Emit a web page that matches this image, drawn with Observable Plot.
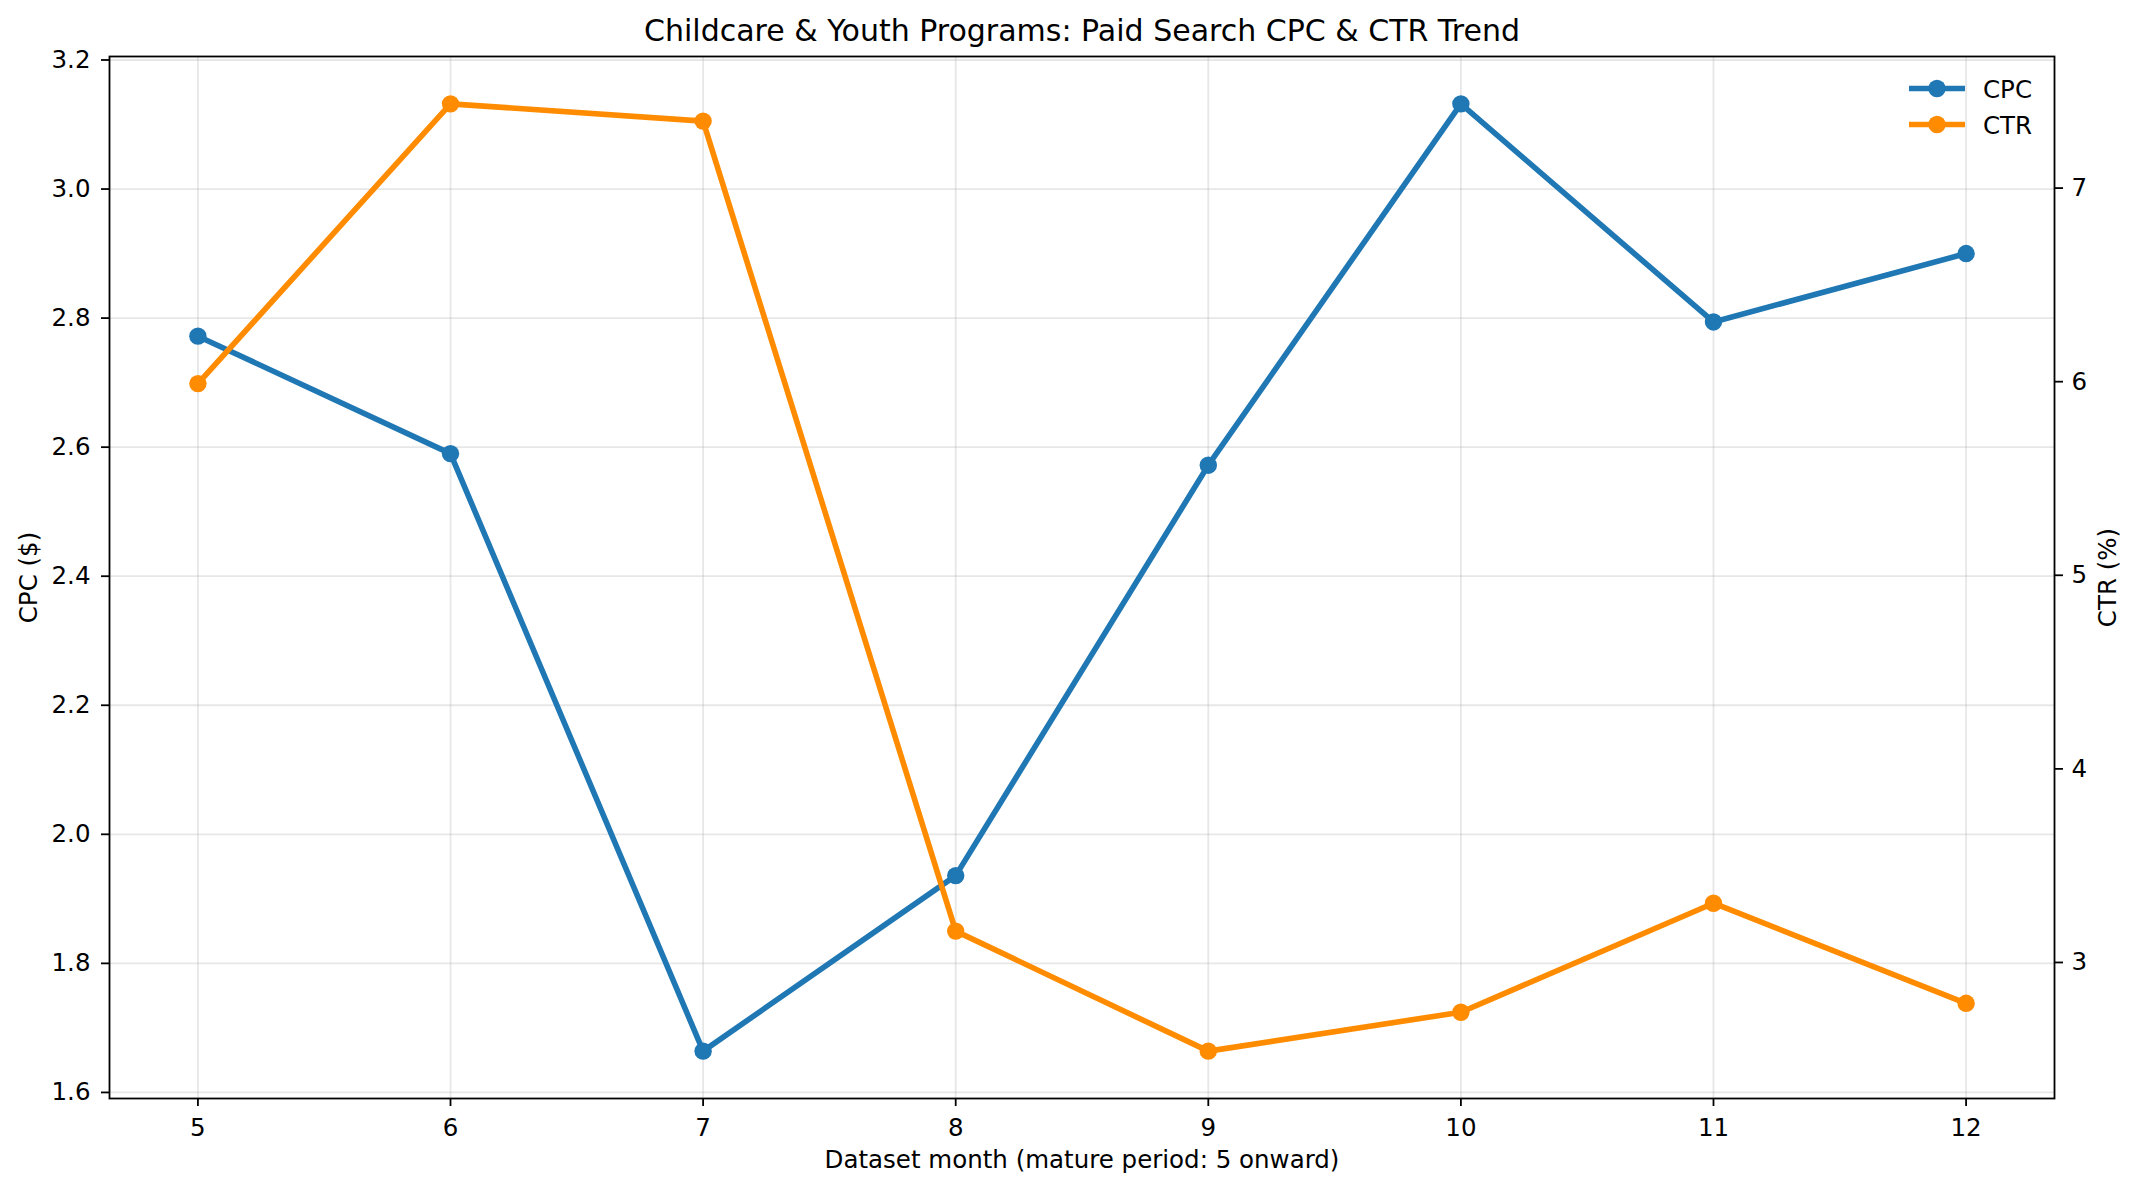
<!DOCTYPE html>
<html>
<head>
<meta charset="utf-8">
<script src="https://cdn.jsdelivr.net/npm/d3@7"></script>
<script src="https://cdn.jsdelivr.net/npm/@observablehq/plot@0.6"></script>
<style>
  html, body { margin: 0; padding: 0; background: white; }
  #chart { position: relative; width: 2139px; height: 1192px; }
</style>
</head>
<body>
<div id="chart"></div>
<script>
// ---- data ----
const months = [5, 6, 7, 8, 9, 10, 11, 12];
const cpc = [2.772, 2.590, 1.664, 1.936, 2.572, 3.132, 2.794, 2.900];
const ctr = [5.99, 7.435, 7.346, 3.162, 2.542, 2.743, 3.306, 2.789];
const cpcTicks = [1.6, 1.8, 2.0, 2.2, 2.4, 2.6, 2.8, 3.0, 3.2];
const ctrTicks = [3, 4, 5, 6, 7];
const seriesNames = ["CPC", "CTR"];
const seriesColors = ["#1f77b4", "#ff8c00"];
const titleText = "Childcare & Youth Programs: Paid Search CPC & CTR Trend";
const xLabel = "Dataset month (mature period: 5 onward)";
const yLabelLeft = "CPC ($)";
const yLabelRight = "CTR (%)";

// ---- table built from arrays ----
const rows = months.map((m, i) => ({month: m, cpc: cpc[i], ctr: ctr[i]}));

// matplotlib-style 5% margins
function padded(vals) {
  const lo = d3.min(vals), hi = d3.max(vals), r = hi - lo;
  return [lo - 0.05 * r, hi + 0.05 * r];
}
const cpcDomain = padded(cpc);
const ctrDomain = padded(ctr);
const xDomain = [d3.min(months) - 0.35, d3.max(months) + 0.35];
// secondary axis: map CTR values into the primary y scale
const ctrToY = d3.scaleLinear().domain(ctrDomain).range(cpcDomain);

const gridStyle = {stroke: "#b0b0b0", strokeOpacity: 0.3, strokeWidth: 1.8};
const FS = 24.5;
const FONT = "'DejaVu Sans', sans-serif";

const chart = Plot.plot({
  width: 2139,
  height: 1192,
  marginLeft: 109,
  marginRight: 85,
  marginTop: 56,
  marginBottom: 94,
  style: {fontFamily: FONT, fontSize: FS + "px", background: "white", color: "black", overflow: "visible"},
  x: {domain: xDomain},
  y: {domain: cpcDomain},
  marks: [
    Plot.gridX(months, gridStyle),
    Plot.gridY(cpcTicks, gridStyle),
    Plot.axisX(months, {tickSize: 8, tickPadding: 12, tickFormat: d3.format("d"), label: null, strokeWidth: 1.8, fontSize: FS}),
    Plot.axisY(cpcTicks, {anchor: "left", tickSize: 8, tickPadding: 11, tickFormat: d3.format(".1f"), label: null, strokeWidth: 1.8, fontSize: FS}),
    Plot.axisY(ctrTicks.map(t => ctrToY(t)), {anchor: "right", tickSize: 8, tickPadding: 9,
      tickFormat: d => String(Math.round(ctrToY.invert(d))), label: null, strokeWidth: 1.8, fontSize: FS}),
    Plot.line(rows, {x: "month", y: "cpc", stroke: seriesColors[0], strokeWidth: 5.6}),
    Plot.dot(rows, {x: "month", y: "cpc", fill: seriesColors[0], r: 8.7}),
    Plot.line(rows, {x: "month", y: d => ctrToY(d.ctr), stroke: seriesColors[1], strokeWidth: 5.6}),
    Plot.dot(rows, {x: "month", y: d => ctrToY(d.ctr), fill: seriesColors[1], r: 8.7}),
    Plot.frame({stroke: "black", strokeWidth: 1.8}),
    Plot.text([titleText], {text: d => d, frameAnchor: "top", dy: -24.7, fontSize: 30, lineAnchor: "middle", textAnchor: "middle"}),
    Plot.text([xLabel], {text: d => d, frameAnchor: "bottom", dy: 62, fontSize: FS, lineAnchor: "middle", textAnchor: "middle"}),
    Plot.text([yLabelLeft], {text: d => d, frameAnchor: "left", dx: -80.5, rotate: -90, fontSize: FS, lineAnchor: "middle", textAnchor: "middle"}),
    Plot.text([yLabelRight], {text: d => d, frameAnchor: "right", dx: 54, rotate: -90, fontSize: FS, lineAnchor: "middle", textAnchor: "middle"})
  ]
});

// ---- legend (top-right inside axes) ----
const svg = d3.select(chart);
const lg = svg.append("g").attr("class", "legend");
seriesNames.forEach((name, i) => {
  const yy = 88.5 + i * 36;
  const g = lg.append("g");
  g.append("line").attr("x1", 1909).attr("x2", 1965).attr("y1", yy).attr("y2", yy)
    .attr("stroke", seriesColors[i]).attr("stroke-width", 5.6);
  g.append("circle").attr("cx", 1937).attr("cy", yy).attr("r", 8.7).attr("fill", seriesColors[i]);
  g.append("text").attr("x", 1983).attr("y", yy + 9.5).attr("font-size", FS)
    .attr("text-anchor", "start")
    .attr("font-family", FONT).attr("fill", "black").text(name);
});

document.getElementById("chart").appendChild(chart);
</script>
</body>
</html>
